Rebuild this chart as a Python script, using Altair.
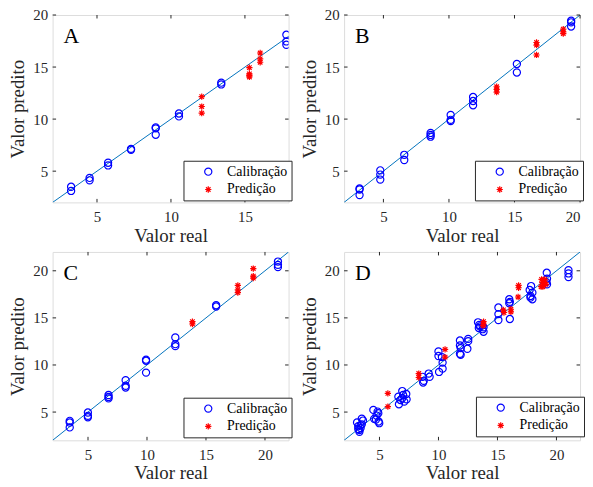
import altair as alt
import pandas as pd

# ---------------- data ----------------
TIPOS = ["Calibração", "Predição"]

A_cal_x = [3.25, 3.25, 4.5, 4.5, 5.75, 5.75, 7.3, 7.3, 8.97, 8.97, 8.97, 10.54, 10.54, 13.4, 13.4, 17.8, 17.8, 17.8]
A_cal_y = [3.5, 3.1, 4.35, 4.12, 5.81, 5.55, 7.14, 7.05, 9.21, 9.11, 8.5, 10.54, 10.26, 13.5, 13.33, 18.1, 17.46, 17.14]
A_pred_x = [12.08, 12.08, 12.08, 15.3, 15.3, 15.3, 15.3, 16.03, 16.03, 16.03]
A_pred_y = [12.16, 11.21, 10.57, 14.95, 14.35, 14.2, 14.05, 16.35, 15.78, 15.46]

B_cal_x = [3.18, 3.18, 3.18, 4.76, 4.76, 4.76, 6.59, 6.59, 8.6, 8.6, 8.6, 10.13, 10.13, 10.13,
           11.84, 11.84, 11.84, 15.18, 15.18, 19.32, 19.32, 19.32]
B_cal_y = [3.33, 3.24, 2.7, 5.08, 4.67, 4.19, 6.57, 6.07, 8.67, 8.48, 8.31, 10.4, 9.93, 9.81,
           12.12, 11.74, 11.33, 15.3, 14.48, 19.45, 19.3, 18.9]
B_pred_x = [13.64, 13.64, 13.64, 16.68, 16.68, 16.68, 18.72, 18.72, 18.72]
B_pred_y = [13.11, 12.86, 12.6, 17.36, 17.11, 16.16, 18.64, 18.38, 18.22]

C_cal_x = [3.45, 3.45, 3.45, 4.99, 4.99, 4.99, 6.74, 6.74, 6.74, 8.19, 8.19, 8.19, 9.92, 9.92, 9.92,
           12.4, 12.4, 12.4, 15.86, 15.86, 21.1, 21.1, 21.1]
C_cal_y = [4.07, 3.89, 3.37, 4.95, 4.6, 4.45, 6.81, 6.6, 6.45, 8.39, 7.79, 7.61, 10.56, 10.45, 9.19,
           12.92, 12.21, 12.0, 16.35, 16.21, 20.98, 20.63, 20.39]
C_pred_x = [13.85, 13.85, 17.7, 17.7, 17.7, 19.01, 19.01, 19.01]
C_pred_y = [14.6, 14.35, 18.45, 17.97, 17.68, 20.24, 19.44, 19.23]

D_cal_x = [3.1, 3.2, 3.3, 3.3, 3.4, 3.5, 3.5, 3.6, 3.4, 3.2,
           4.48, 4.55, 4.75, 4.84, 4.9, 4.93, 4.98, 4.7,
           6.6, 6.65, 6.78, 6.93, 6.93, 7.0, 7.1, 7.27, 7.3,
           8.65, 8.7, 8.75, 9.17, 9.25,
           10.0, 10.0, 10.05, 10.29, 10.35, 10.35,
           11.82, 11.82, 11.88, 11.82, 11.88, 12.52, 12.52, 12.45,
           13.35, 13.45, 13.42, 13.5, 13.82, 13.82, 13.75,
           15.08, 15.08, 15.08, 16.0, 16.05, 16.0, 16.05,
           17.73, 17.8, 17.85, 17.96, 17.96, 17.8,
           19.18, 19.2, 19.2, 19.15, 21.02, 21.02, 21.02]
D_cal_y = [3.9, 3.5, 3.1, 2.9, 3.3, 4.3, 3.7, 4.1, 3.6, 3.2,
           5.23, 4.28, 4.63, 5.05, 4.88, 4.0, 3.82, 4.2,
           6.63, 5.83, 6.28, 7.23, 6.46, 6.81, 6.11, 6.92, 6.35,
           8.74, 8.14, 8.32, 9.09, 8.74,
           11.44, 10.95, 9.26, 10.84, 10.25, 9.61,
           12.6, 12.07, 11.79, 11.19, 11.09, 12.77, 12.53, 11.72,
           14.53, 14.25, 13.93, 14.1, 14.0, 13.53, 13.8,
           16.1, 15.4, 14.77, 16.98, 16.7, 16.56, 14.88,
           17.96, 17.15, 18.38, 17.68, 16.98, 17.33,
           19.79, 19.16, 18.56, 18.8, 20.07, 19.72, 19.33]
D_pred_x = [5.71, 5.71, 8.33, 8.33, 10.56, 10.56, 13.82, 13.82, 13.78, 15.5, 15.55, 16.14, 16.14,
            16.79, 16.79, 16.75, 18.74, 18.8, 18.85, 18.7, 19.0, 19.05, 19.1]
D_pred_y = [6.98, 5.58, 9.09, 8.67, 11.65, 10.84, 14.6, 14.35, 14.18, 15.85, 15.57, 15.92, 15.64,
            18.45, 18.2, 17.22, 19.09, 18.74, 18.31, 18.31, 19.09, 18.74, 18.56]

TICKS_A_X = [5, 10, 15]
TICKS_20 = [5, 10, 15, 20]

# ---------------- style ----------------
FONT = "Liberation Serif"
GRAY = "#262626"
AST = "M-1,0L1,0M0,-1L0,1M-0.72,-0.72L0.72,0.72M-0.72,0.72L0.72,-0.72"
W = 238
TL = 3.5  # inner tick length


def panel(letter, cx, cy, px, py, xdom, ydom, xticks, yticks, h, legx, legy):
    pts = pd.DataFrame({
        "x": list(cx) + list(px),
        "y": list(cy) + list(py),
        "tipo": [TIPOS[0]] * len(cx) + [TIPOS[1]] * len(px),
    })
    xaxis = alt.Axis(values=xticks, title="Valor real", domain=False, ticks=False, grid=False,
                     labelFont=FONT, labelFontSize=15, labelColor=GRAY, labelPadding=7,
                     titleFont=FONT, titleFontSize=19, titleFontWeight="normal", titleColor=GRAY,
                     titlePadding=2)
    yaxis = alt.Axis(values=yticks, title="Valor predito", domain=False, ticks=False, grid=False,
                     labelFont=FONT, labelFontSize=15, labelColor=GRAY, labelPadding=5,
                     titleFont=FONT, titleFontSize=19, titleFontWeight="normal", titleColor=GRAY,
                     titlePadding=5)
    xenc = alt.X("x:Q", scale=alt.Scale(domain=xdom, nice=False, zero=False), axis=xaxis)
    yenc = alt.Y("y:Q", scale=alt.Scale(domain=ydom, nice=False, zero=False), axis=yaxis)

    leg = alt.Legend(title=None, orient="none", legendX=legx, legendY=legy,
                     strokeColor=GRAY, fillColor="white", padding=4, cornerRadius=0,
                     symbolOffset=14, labelOffset=12, rowPadding=4,
                     labelFont=FONT, labelFontSize=14, labelColor="#000000",
                     symbolSize=48, symbolStrokeWidth=1.2)

    line = alt.Chart(pd.DataFrame({"x": [ydom[0], ydom[1]], "y": [ydom[0], ydom[1]]})).mark_line(
        color="#0072bd", strokeWidth=1, clip=True).encode(x=xenc, y=yenc)

    points = alt.Chart(pts).mark_point(filled=False, strokeWidth=1.2, opacity=1, clip=True).encode(
        x=xenc, y=yenc,
        color=alt.Color("tipo:N", scale=alt.Scale(domain=TIPOS, range=["#0000ff", "#ff0000"]), legend=leg),
        shape=alt.Shape("tipo:N", scale=alt.Scale(domain=TIPOS, range=["circle", AST]), legend=leg),
        size=alt.Size("tipo:N", scale=alt.Scale(domain=TIPOS, range=[52, 40]), legend=None),
    )

    xt = pd.DataFrame({"x": xticks})
    yt = pd.DataFrame({"y": yticks})
    tb = alt.Chart(xt).mark_rule(color=GRAY, strokeWidth=1).encode(
        x=xenc, y=alt.value(h), y2=alt.value(h - TL))
    tt = alt.Chart(xt).mark_rule(color=GRAY, strokeWidth=1).encode(
        x=xenc, y=alt.value(0), y2=alt.value(TL))
    tl = alt.Chart(yt).mark_rule(color=GRAY, strokeWidth=1).encode(
        y=yenc, x=alt.value(0), x2=alt.value(TL))
    tr = alt.Chart(yt).mark_rule(color=GRAY, strokeWidth=1).encode(
        y=yenc, x=alt.value(W), x2=alt.value(W - TL))

    lab = alt.Chart(pd.DataFrame({"t": [letter]})).mark_text(
        font=FONT, fontSize=22, align="left", baseline="middle", color="#000000").encode(
        text="t:N", x=alt.value(11), y=alt.value(21))

    return alt.layer(line, tb, tt, tl, tr, points, lab).properties(width=W, height=h)


pA = panel("A", A_cal_x, A_cal_y, A_pred_x, A_pred_y, [2, 17.95], [2, 20], TICKS_A_X, TICKS_20, 189, 132, 147)
pB = panel("B", B_cal_x, B_cal_y, B_pred_x, B_pred_y, [2, 20], [2, 20], TICKS_20, TICKS_20, 189, 132, 147)
pC = panel("C", C_cal_x, C_cal_y, C_pred_x, C_pred_y, [2, 22], [2, 22], TICKS_20, TICKS_20, 190, 132, 147)
pD = panel("D", D_cal_x, D_cal_y, D_pred_x, D_pred_y, [2, 22], [2, 22], TICKS_20, TICKS_20, 190, 133, 146)

chart = alt.concat(pA, pB, pC, pD, columns=2, spacing=alt.RowColnumber(row=50, column=56),
                   bounds="flush").resolve_scale(
    color="independent", shape="independent", size="independent"
).resolve_legend(color="independent", shape="independent", size="independent").properties(
    padding={"left": 0, "top": -3, "right": 0, "bottom": 0}
).configure_view(stroke=GRAY, strokeWidth=1).configure(background="white")

chart.save("out.html", embed_options={"renderer": "svg", "actions": False})
